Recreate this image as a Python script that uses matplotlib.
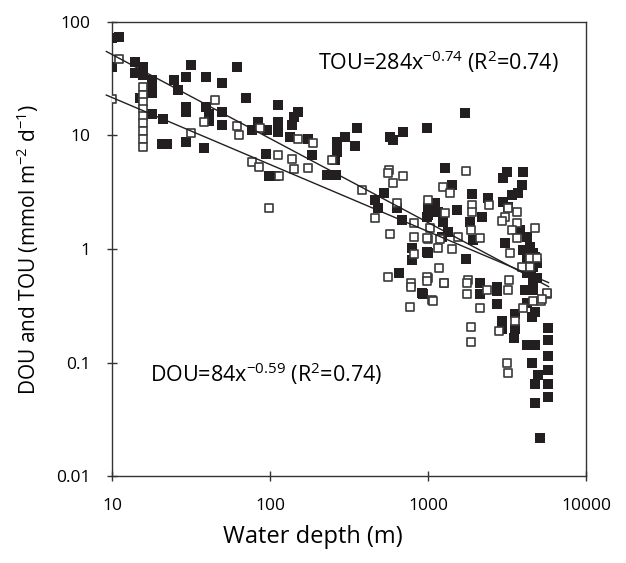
import numpy as np
import matplotlib
matplotlib.use("Agg")
import matplotlib.pyplot as plt

plt.rcParams['font.family'] = ['Open Sans', 'DejaVu Sans']
plt.rcParams['mathtext.default'] = 'regular'

# --- TOU (filled squares): water depth (m), flux (mmol m-2 d-1) ---
tou_depth = [10.0, 11.1, 10.0, 14.0, 15.8, 14.0, 15.8, 17.8, 17.8, 17.8, 15.0, 17.8, 21.1,
             31.6, 29.4, 24.8, 26.1, 39.2, 49.9, 62.1, 29.4, 29.4, 39.2, 41, 41, 49.9, 49.9,
             70.2, 84.3, 76.6, 96.2, 20.6, 22.2, 29.4, 38.4, 94.4, 99.1,
             112.9, 112.9, 112.9, 151, 142.6, 138.4, 133.8, 174.6, 185.2, 107.6, 264.3, 298.3,
             353.7, 345.2, 264.3, 257.5, 228.4, 261.6, 574, 602.6, 691.3, 990, 462.6, 528.7,
             484.5, 633.6, 681.9, 1005, 1005, 995, 788, 788, 654.7, 912,
             1282, 1107, 1161, 1249, 1413, 1520, 1344, 990, 981, 1221, 1892, 2411, 2188, 1845,
             1937, 1741, 2133, 3148, 4010, 2993, 3917, 3387, 3731, 2993, 3221, 3069, 3820,
             4213, 4423, 4637, 4010, 4213, 4637, 2718, 1714,
             925, 2133, 2718, 2743, 2925, 2925, 3556, 3556, 3501, 4113, 4637, 4213, 4532, 4755,
             4213, 4755, 5772, 5772, 5772, 5772, 5772, 5772, 4532, 4987, 4755, 4755, 5114,
             4423, 4637, 4213, 4800, 4755, 4900, 4500, 4900]
tou_flux = [71.8, 73.2, 40.4, 44.2, 40.4, 35.3, 34.1, 30.8, 25.2, 23.5, 21.5, 15.4, 14.0,
            41.8, 33.0, 30.8, 25.2, 32.6, 28.8, 40.4, 17.9, 16.0, 17.9, 15.5, 13.5, 16.0, 12.4,
            21.3, 13.2, 11.2, 11.2, 8.36, 8.36, 8.71, 7.81, 6.87, 4.43,
            18.6, 13.2, 10.8, 16.2, 14.5, 12.4, 9.63, 9.27, 6.73, 4.40, 8.82, 9.76,
            11.6, 8.08, 7.19, 6.08, 4.49, 4.49, 9.76, 9.12, 10.8, 11.6, 2.70, 3.10,
            2.29, 2.29, 1.80, 2.36, 2.00, 0.927, 1.01, 0.80, 0.61, 0.407,
            5.14, 2.53, 2.13, 1.74, 3.66, 2.21, 1.42, 0.946, 1.93, 1.28, 3.05, 2.80, 1.90, 1.74,
            1.20, 0.817, 0.499, 4.80, 4.80, 4.20, 3.66, 2.99, 3.10, 2.61, 2.36, 1.12, 1.47,
            1.28, 1.05, 0.916, 0.98, 0.61, 0.499, 0.466, 15.7,
            0.402, 0.402, 0.430, 0.328, 0.234, 0.196, 0.267, 0.196, 0.163, 0.435, 0.435, 0.332, 0.253, 0.281,
            0.143, 0.143, 0.200, 0.158, 0.114, 0.0859, 0.0647, 0.050, 0.0984, 0.0776, 0.0647, 0.0438, 0.0217,
            0.75, 0.70, 0.80, 0.55, 0.85, 0.75, 0.62, 0.56]

# --- DOU (open squares) ---
dou_depth = [11.1, 10.0, 15.8, 15.8, 15.8, 15.8, 15.8, 15.8, 15.8, 15.8, 15.8, 44.9, 38.4,
             31.6, 62.1, 64.0, 86.5, 76.6, 85.0, 99.1,
             151, 188, 112.9, 137.2, 142.6, 174.6, 114, 245.6, 380.7, 568.3, 561, 691.3, 597.9,
             633.6, 462.6, 818, 995, 574, 818, 995, 818, 561, 780.6, 780.6, 995, 769, 1054,
             1734, 1239, 1377, 1282, 1030, 990, 1161, 1413, 1180, 981, 1263, 1556, 1191, 1892,
             1892, 2434, 1864, 2133, 1799, 3270, 3221, 3641, 3069, 2925, 3641, 3387, 4755, 3641,
             3305, 4423, 4872, 3917, 4423,
             990, 1263, 1071, 1774, 1774, 2350, 3221, 2133, 1864, 1864, 3556, 2812, 4010, 4637,
             5164, 5636, 3148, 3221, 5636, 5244]
dou_flux = [47.2, 21.0, 26.7, 22.7, 19.7, 17.1, 14.8, 12.9, 11.0, 9.32, 7.96, 20.6, 13.2,
            10.5, 12.0, 10.1, 11.6, 5.87, 5.31, 2.31,
            9.27, 8.65, 6.73, 6.25, 5.04, 5.20, 4.40, 6.08, 3.31, 4.96, 4.7, 4.40, 3.84,
            2.53, 1.86, 1.71, 2.70, 1.36, 1.27, 1.22, 0.90, 0.570, 0.505, 0.465, 0.552, 0.310, 0.356,
            4.86, 3.54, 3.10, 2.06, 1.52, 1.24, 1.01, 0.99, 0.676, 0.563, 0.505, 1.28, 1.22, 2.44,
            2.13, 2.44, 1.47, 1.24, 0.533, 0.533, 2.29, 2.13, 1.93, 1.78, 1.68, 1.47, 1.52, 1.24,
            0.916, 0.828, 0.828, 0.698, 0.698,
            0.526, 0.499, 0.350, 0.499, 0.402, 0.435, 0.435, 0.300, 0.204, 0.152, 0.234, 0.191, 0.300, 0.350,
            0.350, 0.402, 0.100, 0.0803, 0.407, 0.363]

# power-law fits shown on the chart: a * x^b
tou_fit = (284, -0.74)
dou_fit = (84, -0.59)
fit_range = [9.2, 5800]

fig = plt.figure(figsize=(6.26, 5.63), dpi=100)
ax = fig.add_axes([0.179, 0.1545, 0.757, 0.8065])

ax.scatter(tou_depth, tou_flux, marker='s', s=52, c='#231f20', linewidths=0, zorder=3)
ax.scatter(dou_depth, dou_flux, marker='s', s=40, facecolors='white',
           edgecolors='#3a3a3a', linewidths=1.2, zorder=4)

xf = np.logspace(np.log10(fit_range[0]), np.log10(fit_range[1]), 100)
ax.plot(xf, tou_fit[0] * xf ** tou_fit[1], color='#231f20', lw=1.0, zorder=5, clip_on=False)
ax.plot(xf, dou_fit[0] * xf ** dou_fit[1], color='#231f20', lw=1.0, zorder=5, clip_on=False)

ax.set_xscale('log')
ax.set_yscale('log')
ax.set_xlim(10, 10000)
ax.set_ylim(0.01, 100)
ax.set_xticks([10, 100, 1000, 10000])
ax.set_xticklabels(['10', '100', '1000', '10000'])
ax.set_yticks([0.01, 0.1, 1, 10, 100])
ax.set_yticklabels(['0.01', '0.1', '1', '10', '100'])
ax.minorticks_off()
ax.tick_params(direction='inout', length=7, width=1, color='#333333',
               labelsize=12.5, pad=12)
for sp in ax.spines.values():
    sp.set_color('#333333')
    sp.set_linewidth(1.0)

ax.text(0.434, 0.895, r'TOU=284x$^{-0.74}$ (R$^{2}$=0.74)', transform=ax.transAxes,
        fontsize=15.5, ha='left', va='baseline')
ax.text(0.080, 0.207, r'DOU=84x$^{-0.59}$ (R$^{2}$=0.74)', transform=ax.transAxes,
        fontsize=15.5, ha='left', va='baseline')

fig.text(0.5, 1 - 537 / 563, 'Water depth (m)', ha='center', va='center', fontsize=17)
fig.text(28 / 626, 1 - 250 / 563, r'DOU and TOU (mmol m$^{-2}$ d$^{-1}$)', rotation=90,
         ha='center', va='center', fontsize=15)

fig.savefig('out.png', dpi=100)
